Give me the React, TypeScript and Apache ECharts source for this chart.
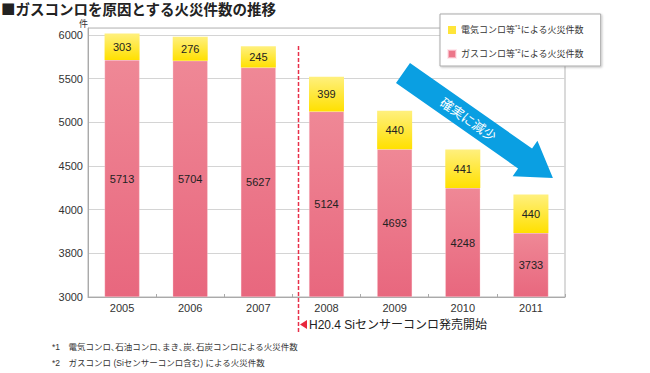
import React, { useEffect, useRef } from 'react';
import * as echarts from 'echarts';

const categories = ['2005', '2006', '2007', '2008', '2009', '2010', '2011'];
const gasFires = [5713, 5704, 5627, 5124, 4693, 4248, 3733];
const electricFires = [303, 276, 245, 399, 440, 441, 440];
const yTickValues = [3000, 3500, 4000, 4500, 5000, 5500, 6000];
const yTickLabels = ['3000', '3800', '4000', '4500', '5000', '5500', '6000'];
const seriesNames = ['電気コンロ等*1による火災件数', 'ガスコンロ等*2による火災件数'];
const titleText = '■ガスコンロを原因とする火災件数の推移';
const unitText = '件';
const arrowText = '確実に減少';
const eventText = 'H20.4 Siセンサーコンロ発売開始';
const footnotes = [
  '*1　電気コンロ､石油コンロ､まき､炭､石炭コンロによる火災件数',
  '*2　ガスコンロ (Siセンサーコンロ含む) による火災件数',
];

const FONT = '"Liberation Sans", "Noto Sans CJK JP", sans-serif';

export default function App() {
  const ref = useRef<HTMLDivElement>(null);
  useEffect(() => {
    if (!ref.current) return;
    const chart = echarts.init(ref.current, null, { renderer: 'svg' });
    const pink = new echarts.graphic.LinearGradient(0, 0, 0, 1, [
      { offset: 0, color: '#ef8896' },
      { offset: 1, color: '#e8677e' },
    ]);
    const yellow = new echarts.graphic.LinearGradient(0, 0, 0, 1, [
      { offset: 0, color: '#fff07e' },
      { offset: 1, color: '#ffe000' },
    ]);
    // arrow geometry (annotation)
    const ox = 403, oy = 73;
    const ang = (35 * Math.PI) / 180;
    const ux = Math.cos(ang), uy = Math.sin(ang);
    const pt = (u: number, v: number) => [ox + u * ux - v * uy, oy + u * uy + v * ux];
    const arrowPts = [
      pt(0, -12.2), pt(149, -12.2), pt(149, -21.6), pt(183, 0),
      pt(149, 21.6), pt(149, 12.2), pt(0, 12.2),
    ];
    const textPos = pt(80, 0);

    chart.setOption({
      animation: false,
      textStyle: { fontFamily: FONT },
      title: {
        text: titleText,
        left: 1,
        top: 1,
        padding: 0,
        textStyle: { fontSize: 14.5, fontWeight: 'bold', color: '#222', fontFamily: '"Noto Sans CJK JP", sans-serif' },
      },
      grid: {
        left: 88,
        right: 85,
        top: 28,
        bottom: 76,
        show: true,
        borderColor: '#b5b5b5',
        borderWidth: 1,
      },
      legend: {
        left: 440,
        top: 14,
        orient: 'vertical',
        backgroundColor: '#fff',
        borderColor: '#aaa',
        borderWidth: 1,
        padding: [10, 17, 6, 7],
        itemGap: 12,
        itemWidth: 8,
        itemHeight: 8,
        shadowColor: 'rgba(0,0,0,0.25)',
        shadowBlur: 2,
        shadowOffsetX: 1,
        shadowOffsetY: 1,
        data: [
          { name: seriesNames[0], icon: 'rect', itemStyle: { color: '#ffe53a' } },
          { name: seriesNames[1], icon: 'rect', itemStyle: { color: '#ec7689' } },
        ],
        formatter: (name: string) => name.replace(/\*(\d)/, '{sup|*$1}'),
        textStyle: {
          fontSize: 9,
          lineHeight: 12,
          color: '#333',
          fontFamily: FONT,
          rich: {
            sup: { fontSize: 6, lineHeight: 7, verticalAlign: 'top', color: '#333' },
          },
        },
      },
      xAxis: {
        type: 'category',
        data: categories,
        axisLine: { lineStyle: { color: '#aaa' } },
        axisTick: { show: true, inside: true, length: 3, lineStyle: { color: '#aaa' } },
        axisLabel: { fontSize: 11, color: '#333', margin: 5 },
      },
      yAxis: {
        type: 'value',
        min: 3000,
        max: 6080,
        interval: 500,
        startValue: 3000,
        name: unitText,
        nameLocation: 'end',
        nameGap: 0,
        nameTextStyle: { fontSize: 9, color: '#333', align: 'right', fontFamily: '"Noto Sans CJK JP", sans-serif' },
        axisLine: { show: true, lineStyle: { color: '#aaa' } },
        axisTick: { show: false },
        splitLine: { lineStyle: { color: '#d4d4d4' } },
        axisLabel: {
          fontSize: 11,
          color: '#333',
          margin: 5,
          formatter: (v: number) => {
            const i = yTickValues.indexOf(v);
            return i >= 0 ? yTickLabels[i] : '';
          },
        },
      },
      series: [
        {
          name: seriesNames[1],
          type: 'bar',
          stack: 'total',
          barWidth: 35,
          data: gasFires,
          itemStyle: { color: pink, borderColor: 'rgba(255,220,228,0.6)', borderWidth: 0.5 },
          label: { show: true, position: 'inside', fontSize: 11, color: '#222' },
        },
        {
          name: seriesNames[0],
          type: 'bar',
          stack: 'total',
          barWidth: 35,
          data: electricFires,
          itemStyle: { color: yellow },
          label: { show: true, position: 'inside', fontSize: 11, color: '#222' },
        },
      ],
      graphic: [
        {
          type: 'line',
          shape: { x1: 298.5, y1: 46, x2: 298.5, y2: 334 },
          style: { stroke: '#e8304a', lineWidth: 1.5, lineDash: [4, 2] },
          z: 10,
        },
        {
          type: 'polygon',
          shape: { points: [[300, 324.5], [307, 320], [307, 329]] },
          style: { fill: '#e8283c' },
          z: 11,
        },
        {
          type: 'text',
          x: 309,
          y: 324.5,
          style: { text: eventText, fill: '#222', font: `12px ${FONT}`, verticalAlign: 'middle' },
          z: 11,
        },
        {
          type: 'polygon',
          shape: { points: arrowPts },
          style: { fill: '#0a9fe2' },
          z: 12,
        },
        {
          type: 'text',
          x: textPos[0],
          y: textPos[1],
          rotation: -ang,
          style: {
            text: arrowText,
            fill: '#fff',
            font: `13px "Noto Sans CJK JP", sans-serif`,
            align: 'center',
            verticalAlign: 'middle',
          },
          z: 13,
        },
        {
          type: 'text',
          x: 52,
          y: 347,
          style: { text: footnotes[0], fill: '#333', font: `8.5px ${FONT}`, verticalAlign: 'middle' },
        },
        {
          type: 'text',
          x: 52,
          y: 363,
          style: { text: footnotes[1], fill: '#333', font: `8.5px ${FONT}`, verticalAlign: 'middle' },
        },
      ],
    });
    return () => chart.dispose();
  }, []);
  return <div ref={ref} style={{ position: 'fixed', left: 0, top: 0, width: 650, height: 373, background: '#fff' }} />;
}
